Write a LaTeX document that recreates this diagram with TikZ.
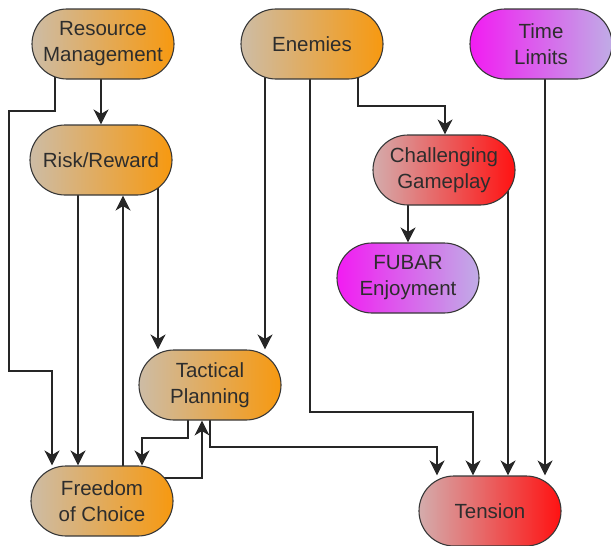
\documentclass[tikz,border=0pt]{standalone}
\usepackage{fontspec}
\setmainfont{Liberation Sans}
\usetikzlibrary{arrows.meta}
\pgfdeclarelayer{background}
\pgfsetlayers{background,main}

\definecolor{tanleft}{RGB}{205,188,165}
\definecolor{orangeright}{RGB}{247,153,16}
\definecolor{redleft}{RGB}{212,172,172}
\definecolor{redright}{RGB}{255,18,18}
\definecolor{magleft}{RGB}{242,28,242}
\definecolor{lavright}{RGB}{192,172,230}
\definecolor{inkgray}{RGB}{45,45,45}

\begin{document}
\begin{tikzpicture}[x=1pt,y=-1pt,
  box/.style={rectangle, rounded corners=35pt, draw=black!78, line width=1.1pt,
    minimum width=142pt, minimum height=70pt, inner sep=0pt, align=center,
    font=\fontsize{20.5}{26}\selectfont, text=inkgray},
  orangebox/.style={box, left color=tanleft, right color=orangeright},
  redbox/.style={box, left color=redleft, right color=redright},
  purplebox/.style={box, left color=magleft, right color=lavright},
  link/.style={draw=black!85, line width=1.1pt,
    -{Stealth[length=15pt,width=15pt,inset=4.5pt]}}]

\useasboundingbox (0,0) rectangle (611,546);

% nodes
\node[orangebox] (rm) at (103,44)  {Resource\\Management};
\node[orangebox] (rr) at (101,160) {Risk/Reward};
\node[orangebox] (en) at (312,44)  {Enemies};
\node[purplebox] (tl) at (541,44)  {Time\\Limits};
\node[redbox]    (cg) at (444,170) {Challenging\\Gameplay};
\node[purplebox] (fu) at (408,278) {FUBAR\\Enjoyment};
\node[orangebox] (tp) at (210,385) {Tactical\\Planning};
\node[orangebox] (fc) at (102,501) {Freedom\\of Choice};
\node[redbox]    (te) at (490,511) {Tension};

% connectors, kept behind the nodes
\begin{pgfonlayer}{background}
  \draw[link] (rm.center -| rr.north) -- (rr.north);
  \draw[link] ([xshift=-48pt]rm.center) -- (55,111) -- (9,111) -- (9,371)
    -- (52,371) -- ([xshift=-50pt]fc.north);
  \draw[link] ([xshift=-23pt]rr.center) -- ([xshift=-24pt]fc.north);
  \draw[link] ([xshift=21pt]fc.center) -- ([xshift=22pt]rr.south);
  \draw[link] ([xshift=57pt]rr.center) -- ([xshift=-52pt]tp.north);
  \draw[link] ([xshift=-47pt]en.center) -- ([xshift=55pt]tp.north);
  \draw[link] ([xshift=-2pt]en.center) -- (310,412) -- (473,412)
    -- ([xshift=-17pt]te.north);
  \draw[link] ([xshift=46pt]en.center) -- (358,106) -- (445,106)
    -- ([xshift=1pt]cg.north);
  \draw[link] ([xshift=-36pt]cg.center) -- (fu.north);
  \draw[link] ([xshift=64pt]cg.center) -- ([xshift=18pt]te.north);
  \draw[link] ([xshift=4pt]tl.center) -- ([xshift=55pt]te.north);
  \draw[link] ([xshift=-22pt]tp.center) -- (188,438) -- (142,438)
    -- ([xshift=40pt]fc.north);
  \draw[link] ([yshift=23pt]fc.center) -- (202,478) -- ([xshift=-8pt]tp.south);
  \draw[link] (tp.center) -- (210,447) -- (437,447)
    -- ([xshift=-53pt]te.north);
\end{pgfonlayer}
\end{tikzpicture}
\end{document}
